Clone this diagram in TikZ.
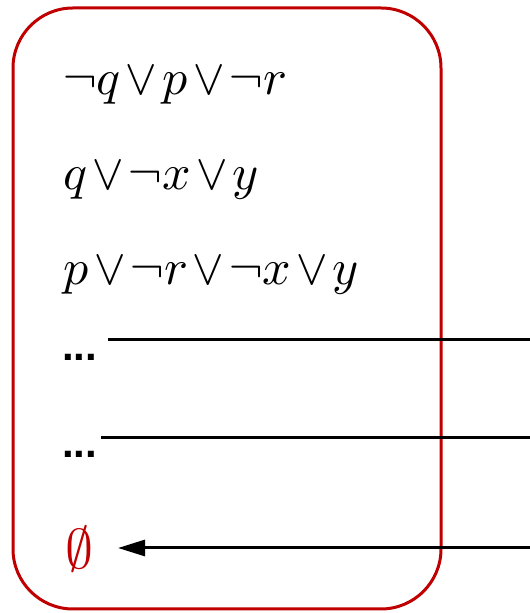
\documentclass[tikz,border=0pt]{standalone}
\usepackage{fontspec}
\usepackage{unicode-math}
\setmathfont{Latin Modern Math}
\usetikzlibrary{arrows.meta}
\newfontfamily\dotsfont{Liberation Sans}
\definecolor{boxred}{HTML}{C00000}
\newcommand{\myor}{\mskip1.5mu{\lor}\mskip1.5mu}
\begin{document}
\begin{tikzpicture}[x=1pt,y=1pt,
  clause/.style={anchor=base west,inner sep=0pt,font=\fontsize{50}{54}\selectfont},
  dotsnode/.style={anchor=base west,inner sep=0pt,font=\dotsfont\bfseries\fontsize{42}{46}\selectfont},
  link/.style={line width=3pt,black}]
\useasboundingbox (0,0) rectangle (530,613);
\draw[boxred,line width=3pt,rounded corners=60pt] (13,4) rectangle (441,605);
\node[clause] (c1) at (63,518) {$\neg q\myor p\myor\neg r$};
\node[clause] (c2) at (63,423) {$q\myor\neg x\myor y$};
\node[clause] (c3) at (63,328) {$p\myor\neg r\myor\neg x\myor y$};
\node[dotsnode] (d1) at (62,252) {...};
\node[dotsnode] (d2) at (62,155) {...};
\node[clause,text=boxred,font=\fontsize{56}{60}\selectfont] (e) at (65,44) {$\emptyset$};
\coordinate (r1) at (530,273);
\coordinate (r2) at (530,175);
\coordinate (r3) at (530,65);
\coordinate (l1) at (108,273);
\coordinate (l2) at (101,175);
\coordinate (l3) at (118,65);
\draw[link] (l1) -- (r1);
\draw[link] (l2) -- (r2);
\draw[link,-{Triangle[length=27pt,width=16pt]}] (r3) -- (l3);
\end{tikzpicture}
\end{document}
